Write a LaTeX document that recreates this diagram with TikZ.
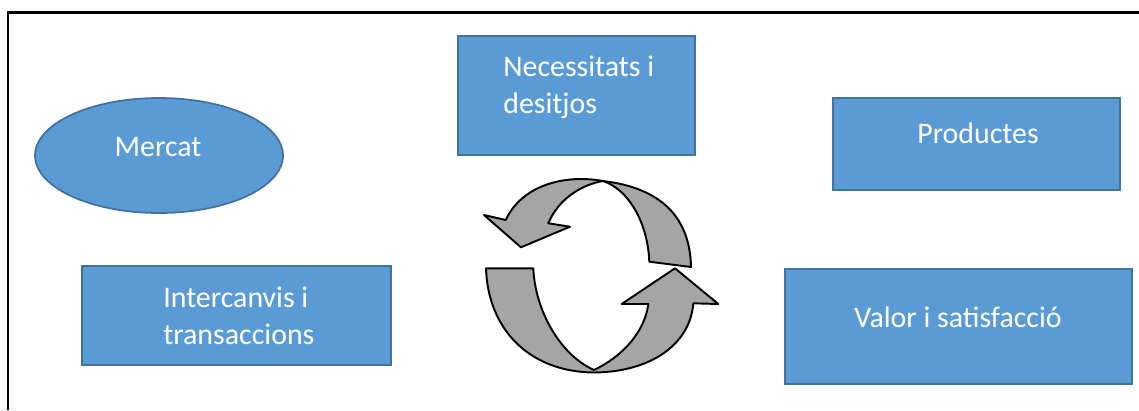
\documentclass[tikz,border=0pt]{standalone}
\usepackage{fontspec}
\setmainfont{Carlito}
\usetikzlibrary{shapes.geometric}
\definecolor{boxblue}{HTML}{5B9BD5}
\definecolor{boxline}{HTML}{41719C}
\definecolor{arrowgray}{HTML}{A5A5A5}
\tikzset{
  bluebox/.style={rectangle,fill=boxblue,draw=boxline,line width=1pt,inner sep=0pt},
  blueoval/.style={ellipse,fill=boxblue,draw=boxline,line width=1pt,inner sep=0pt},
  boxtext/.style={text=white,font=\fontsize{17}{21}\selectfont,align=left,inner sep=0pt},
  cyclearrow/.style={fill=arrowgray,draw=black,line width=1.1pt,line join=round}
}
\begin{document}
\begin{tikzpicture}[x=0.02cm,y=-0.02cm]
    \useasboundingbox (0,0) rectangle (1139,410);
    % frame
    \draw[line width=1.2pt] (8,410) -- (8,12.5) -- (1139,12.5);
    % boxes
    \node[blueoval,minimum width=4.96cm,minimum height=2.3cm] (mercatbox) at (159,155.5) {};
    \node[boxtext] (mercat) at (158,147) {Mercat};
    \node[bluebox,minimum width=4.74cm,minimum height=2.38cm] (necbox) at (576.5,95.5) {};
    \node[boxtext,anchor=west] (nec) at (503,87) {Necessitats i\\desitjos};
    \node[bluebox,minimum width=5.74cm,minimum height=1.84cm] (prodbox) at (976.5,144) {};
    \node[boxtext] (prod) at (978,133) {Productes};
    \node[bluebox,minimum width=6.18cm,minimum height=1.98cm] (interbox) at (236.5,315.5) {};
    \node[boxtext,anchor=west] (inter) at (163,316) {Intercanvis i\\transaccions};
    \node[bluebox,minimum width=6.94cm,minimum height=2.3cm] (valorbox) at (958.5,326.5) {};
    \node[boxtext] (valor) at (958,317) {Valor i satisfacció};
    % cycle arrows
    \draw[cyclearrow] (691,267)
      .. controls (690,218) and (662,188) .. (603,181)
      .. controls (565,174) and (522,185) .. (505.7,220)
      -- (484,215) -- (521,247.3) -- (570,226.7) -- (548.3,223.3)
      .. controls (558,200) and (580,185) .. (603,181)
      .. controls (630,190) and (648,225) .. (649.3,261.7) -- cycle;
    \draw[cyclearrow] (486,268.3) -- (533.3,268.3)
      .. controls (535,310) and (560,355) .. (594,370)
      .. controls (625,355) and (645,330) .. (648.3,304)
      -- (621.7,304) -- (675,268.3) -- (718.3,304) -- (693.3,303.3)
      .. controls (690,345) and (650,372) .. (594,372.5)
      .. controls (530,372) and (488,330) .. (486,268.3) -- cycle;
\end{tikzpicture}
\end{document}
